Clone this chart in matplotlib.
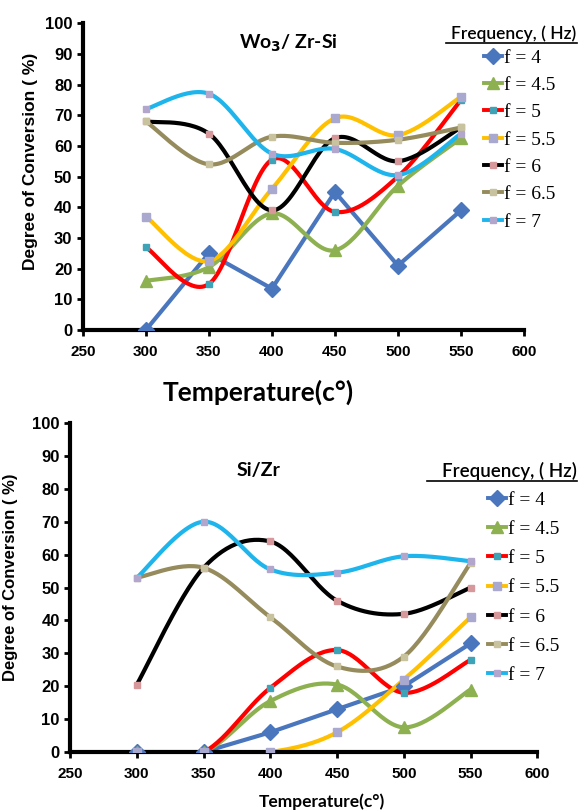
import numpy as np
import matplotlib
matplotlib.use('Agg')
import matplotlib.pyplot as plt
from matplotlib.lines import Line2D

# Data
temps = [300, 350, 400, 450, 500, 550]
labels = ['f = 4', 'f = 4.5', 'f = 5', 'f = 5.5', 'f = 6', 'f = 6.5', 'f = 7']

# WO3 / Zr-Si
top_f4 = [0, 25, 13.5, 45, 21, 39]
top_f45 = [16, 20.5, 38, 26, 47, 62.5]
top_f5 = [27, 15, 55.5, 38.5, 50, 75]
top_f55 = [37, 22.5, 46, 69, 63.5, 76]
top_f6 = [68, 64, 39, 62.5, 55, 66]
top_f65 = [68, 54, 63, 61, 62, 66]
top_f7 = [72, 77, 57.5, 59, 50.5, 64]

# Si/Zr
bot_f4 = [0, 0, 6, 13, 20, 33]
bot_f45 = [0, 0, 15.5, 20.5, 7.5, 19]
bot_f5 = [0, 0, 19.5, 31, 18, 28]
bot_f55 = [0, 0, 0, 6, 22, 41]
bot_f6 = [20.5, 56, 64, 46, 42, 50]
bot_f65 = [53, 56, 41, 26, 29, 57.5]
bot_f7 = [53, 70, 55.5, 54.5, 59.5, 58]

line_colors = ['#4A76BE', '#8DB050', '#FF0000', '#FFC000', '#000000', '#958B5C', '#1EB4EC']
marker_colors = ['#4A76BE', '#8DB050', '#3FA3B8', '#A9A8CF', '#D6989A', '#C8C39E', '#B3A6CC']
markers = ['D', '^', 's', 's', 's', 's', 's']
msizes = [8, 9, 5, 6, 5, 5, 5]
smoothed = [False, True, True, True, True, True, True]


def smooth(xs, ys, n=30):
    # Catmull-Rom style curve like Excel's "smoothed line"
    pts = np.column_stack([xs, ys]).astype(float)
    p = np.vstack([pts[0], pts, pts[-1]])
    t = np.linspace(0, 1, n)[:, None]
    out = []
    for i in range(1, len(p) - 2):
        p0, p1, p2, p3 = p[i - 1], p[i], p[i + 1], p[i + 2]
        c1 = p1 + (p2 - p0) / 6
        c2 = p2 - (p3 - p1) / 6
        seg = (1 - t) ** 3 * p1 + 3 * (1 - t) ** 2 * t * c1 + 3 * (1 - t) * t ** 2 * c2 + t ** 3 * p2
        out.append(seg if i == 1 else seg[1:])
    out = np.vstack(out)
    return out[:, 0], out[:, 1]


def draw(ax, series):
    for k, ys in enumerate(series):
        if smoothed[k]:
            sx, sy = smooth(temps, ys)
        else:
            sx, sy = temps, ys
        ax.plot(sx, sy, color=line_colors[k], lw=3, solid_capstyle='round', zorder=2 + k * 0.1)
        ax.plot(temps, ys, linestyle='none', marker=markers[k], ms=msizes[k],
                color=marker_colors[k], mec=marker_colors[k], zorder=3 + k * 0.1)
    ax.set_xlim(250, 600)
    ax.set_ylim(0, 100)
    ax.set_xticks(range(250, 601, 50))
    ax.set_yticks(range(0, 101, 10))
    for s in ['top', 'right']:
        ax.spines[s].set_visible(False)
    for s in ['left', 'bottom']:
        ax.spines[s].set_linewidth(3)
    ax.tick_params(direction='out', length=4, width=2)
    ax.tick_params(axis='x', pad=6.5)
    for lab in ax.get_xticklabels():
        lab.set_fontweight('bold')
        lab.set_fontsize(11)
        lab.set_family('Liberation Sans')
    for lab in ax.get_yticklabels():
        lab.set_fontweight('bold')
        lab.set_fontsize(12)
        lab.set_family('Liberation Sans')


def legend(fig, x, y, title_y, title_size, line_x0, line_y, spacing):
    handles = [Line2D([], [], color=line_colors[k], lw=2.8, marker=markers[k],
                      ms=msizes[k], mfc=marker_colors[k], mec=marker_colors[k])
               for k in range(len(labels))]
    fig.legend(handles, labels, loc='upper left', bbox_to_anchor=(x, y),
               frameon=False, borderpad=0, borderaxespad=0, handlelength=0.9,
               handletextpad=0.15, labelspacing=spacing,
               prop={'family': 'Liberation Serif', 'size': 14})
    fig.text(0.996, title_y, 'Frequency, ( Hz)', ha='right', va='center',
             fontsize=title_size, family='Lato', fontweight='semibold')
    fig.add_artist(Line2D([line_x0, 0.997], [line_y, line_y], color='black', lw=1.2,
                          transform=fig.transFigure))


fig = plt.figure(figsize=(5.79, 8.11), dpi=100)

ax1 = fig.add_axes([0.143, 0.593, 0.762, 0.3785])
draw(ax1, [top_f4, top_f45, top_f5, top_f55, top_f6, top_f65, top_f7])
ax1.text(413, 93.5, 'Wo$_\\mathbf{3}$/ Zr-Si', ha='center', va='center',
         fontsize=14, family='Lato', fontweight='bold')
ax1.set_ylabel('Degree of Conversion ( %)', fontsize=12.5, fontweight='bold',
               family='Liberation Sans')
ax1.yaxis.set_label_coords(-0.102, 0.55)
fig.text(258 / 579, 1 - 392 / 811, 'Temperature(c°)', ha='center', va='center',
         fontsize=19, family='Lato', fontweight='bold')
legend(fig, 484 / 579, 1 - 49 / 811, 1 - 34 / 811, 12.5, 446 / 579, 1 - 43 / 811, 0.5)

ax2 = fig.add_axes([0.121, 0.0727, 0.807, 0.4057])
draw(ax2, [bot_f4, bot_f45, bot_f5, bot_f55, bot_f6, bot_f65, bot_f7])
ax2.text(391, 85.7, 'Si/Zr', ha='center', va='center',
         fontsize=14, family='Lato', fontweight='bold')
ax2.set_ylabel('Degree of Conversion ( %)', fontsize=12, fontweight='bold',
               family='Liberation Sans')
ax2.yaxis.set_label_coords(-0.112, 0.53)
fig.text(322 / 579, 1 - 802 / 811, 'Temperature(c°)', ha='center', va='center',
         fontsize=12.5, family='Lato', fontweight='bold')
legend(fig, 488 / 579, 1 - 491 / 811, 1 - 471 / 811, 13.5, 427 / 579, 1 - 481 / 811, 0.6)

fig.savefig('out.png', dpi=100)
